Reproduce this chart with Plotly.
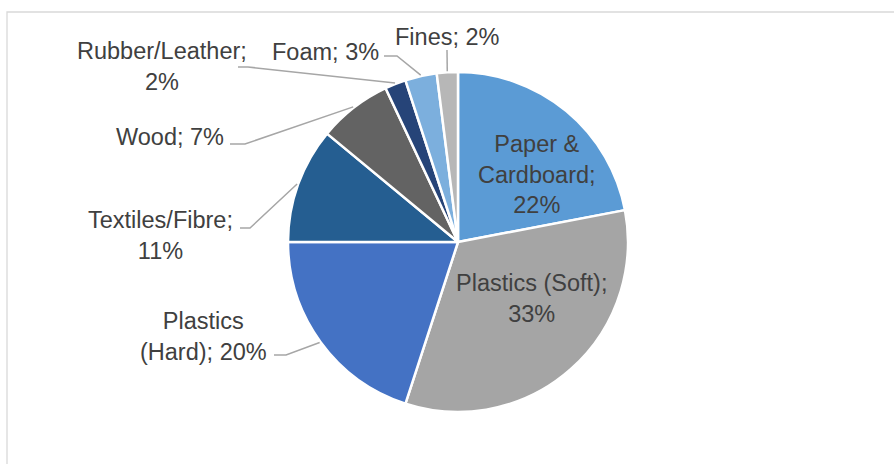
import math
import plotly.graph_objects as go

# ---- data ----
categories = ["Paper & Cardboard", "Plastics (Soft)", "Plastics (Hard)", "Textiles/Fibre",
              "Wood", "Rubber/Leather", "Foam", "Fines"]
values = [22, 33, 20, 11, 7, 2, 3, 2]
colors = ["#5B9BD5", "#A5A5A5", "#4472C4", "#255E91", "#636363", "#264478", "#7CAFDD", "#B7B7B7"]

# ---- layout constants (pixels) ----
W, H = 894, 464
CX, CY, R = 458, 242, 170
# word index after which to break the label into a new line
breaks = {
    "Paper & Cardboard": [2, 3],
    "Plastics (Soft)": [2],
    "Plastics (Hard)": [1],
    "Textiles/Fibre": [1],
    "Rubber/Leather": [1],
}
label_pos = {
    "Paper & Cardboard": (537, 174),
    "Plastics (Soft)": (531, 298),
    "Plastics (Hard)": (203, 336),
    "Textiles/Fibre": (160, 235),
    "Wood": (170, 137),
    "Rubber/Leather": (162, 67),
    "Foam": (325, 52),
    "Fines": (447, 37),
}
# leader: (end x, end y, elbow x, elbow y)
leaders = {
    "Plastics (Hard)": (274, 355, 286, 355),
    "Textiles/Fibre": (240, 228, 250, 228),
    "Wood": (230, 144, 245, 144),
    "Rubber/Leather": (238, 67, 248, 67),
    "Foam": (384, 56, 397, 56),
    "Fines": (447, 50, 447, 50),
}


def px(x):
    return x / W


def py(y):
    return 1 - y / H


fig = go.Figure(go.Pie(
    labels=categories,
    values=values,
    sort=False,
    direction="clockwise",
    rotation=0,
    marker=dict(colors=colors, line=dict(color="white", width=2.5)),
    textinfo="none",
    hoverinfo="label+percent",
    domain=dict(x=[px(CX - R), px(CX + R)], y=[py(CY + R), py(CY - R)]),
    showlegend=False,
))

total = sum(values)
annotations = []
shapes = [dict(type="rect", xref="paper", yref="paper",
               x0=px(7), x1=px(W + 5), y0=py(H + 5), y1=py(12),
               line=dict(color="#D9D9D9", width=1.3), fillcolor="rgba(0,0,0,0)")]

cum = 0
for cat, val in zip(categories, values):
    mid = (cum + val / 2) / total
    cum += val
    words = f"{cat}; {round(100 * val / total)}%".split(" ")
    text = ""
    for i, w in enumerate(words):
        if i > 0:
            text += "<br>" if i in breaks.get(cat, []) else " "
        text += w
    lx, ly = label_pos[cat]
    annotations.append(dict(x=px(lx), y=py(ly), xref="paper", yref="paper", text=text,
                            showarrow=False, xanchor="center", yanchor="middle", align="center",
                            font=dict(family="Liberation Sans, Arial, sans-serif", size=23.5,
                                      color="#404040")))
    if cat in leaders:
        ang = 2 * math.pi * mid
        ex = CX + (R + 1) * math.sin(ang)
        ey = CY - (R + 1) * math.cos(ang)
        x0, y0, x1, y1 = leaders[cat]
        path = f"M {px(x0)},{py(y0)} L {px(x1)},{py(y1)} L {px(ex)},{py(ey)}"
        shapes.append(dict(type="path", xref="paper", yref="paper", path=path,
                           line=dict(color="#A6A6A6", width=1.5)))

fig.update_layout(
    width=W, height=H,
    margin=dict(l=0, r=0, t=0, b=0),
    paper_bgcolor="white",
    plot_bgcolor="white",
    annotations=annotations,
    shapes=shapes,
)

fig.write_html("out.html", config={"displayModeBar": False},
               post_script="document.body.style.margin='0';")
